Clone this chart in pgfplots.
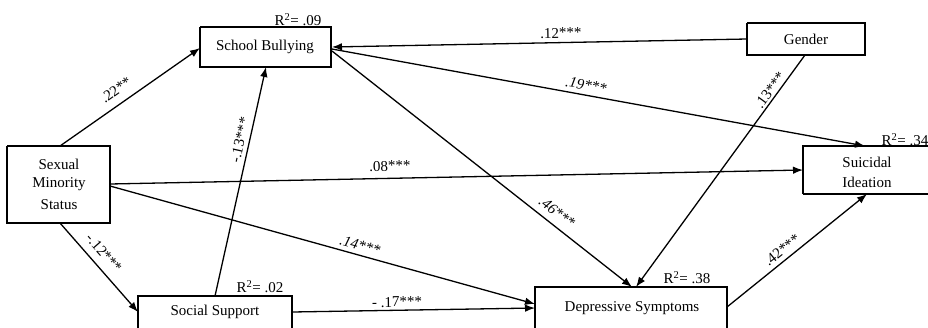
\documentclass[border=0pt]{standalone}
\usepackage{pgfplots}
\pgfplotsset{compat=1.18}
\usepackage{fontspec}
\setmainfont{Liberation Serif}
\usetikzlibrary{arrows.meta}
\begin{document}
\begin{tikzpicture}[every node/.style={font=\fontsize{15}{17}\selectfont, inner sep=0pt}]
\begin{axis}[
  scale only axis, width=928pt, height=327pt,
  xmin=0, xmax=928, ymin=0, ymax=327, y dir=reverse,
  hide axis, clip=true,
]
\coordinate (BL) at (rel axis cs:0,0);
\coordinate (TR) at (rel axis cs:1,1);
% arrows
\pgfplotsset{arr/.style={black, line width=1.3pt, -{Latex[length=10pt,width=7.5pt]}, no marks}}
\addplot[arr] coordinates {(60,146) (200,48)};            % SMS -> SB
\addplot[arr] coordinates {(60,223) (138,312)};           % SMS -> SS
\addplot[arr] coordinates {(215,296) (266,67)};           % SS -> SB
\addplot[arr] coordinates {(747,39) (332,47)};            % Gender -> SB
\addplot[arr] coordinates {(332,49) (865,146)};           % SB -> SI
\addplot[arr] coordinates {(332,51) (632,287)};           % SB -> Dep
\addplot[arr] coordinates {(805,55) (636,287)};           % Gender -> Dep
\addplot[arr] coordinates {(110,184) (803,170)};          % SMS -> SI
\addplot[arr] coordinates {(110,186) (535,304)};          % SMS -> Dep
\addplot[arr] coordinates {(292,312) (535,308)};          % SS -> Dep
\addplot[arr] coordinates {(727,307) (867,194)};          % Dep -> SI
% boxes
\pgfplotsset{bx/.style={black, line width=1.3pt, no marks}}
\addplot[bx] coordinates {(200,27) (331,27) (331,67) (200,67) (200,27)};   % School Bullying
\addplot[bx] coordinates {(747,23) (865,23) (865,55) (747,55) (747,23)};   % Gender
\addplot[bx] coordinates {(803,194) (803,146) (940,146) (940,194) (803,194)}; % Suicidal
\addplot[bx] coordinates {(7,146) (110,146) (110,223) (7,223) (7,146)};    % SMS
\addplot[bx] coordinates {(138,340) (138,296) (292,296) (292,340)};        % Social support
\addplot[bx] coordinates {(535,340) (535,287) (727,287) (727,340)};        % Depressive
% box texts
\node at (axis cs:265,47) {School Bullying};
\node at (axis cs:806,39) {Gender};
\node at (axis cs:867,162) {Suicidal};
\node at (axis cs:867,182) {Ideation};
\node at (axis cs:59,164) {Sexual};
\node at (axis cs:59,184) {Minority};
\node at (axis cs:59,205) {Status};
\node at (axis cs:215,312) {Social Support};
\node at (axis cs:632,308) {Depressive Symptoms};
% R squared
\node at (axis cs:298,20) {R\textsuperscript{2}= .09};
\node at (axis cs:905,140) {R\textsuperscript{2}= .34};
\node at (axis cs:260,287) {R\textsuperscript{2}= .02};
\node at (axis cs:687,278) {R\textsuperscript{2}= .38};
% coefficients
\node[rotate=35.3] at (axis cs:116,90) {.22**};
\node[rotate=77.4] at (axis cs:240,140) {-.13***};
\node[rotate=1.1] at (axis cs:561,33) {.12***};
\node[rotate=-10.4] at (axis cs:586,85) {\itshape .19***};
\node[rotate=-38.3] at (axis cs:557,212) {\itshape .46***};
\node[rotate=53.9] at (axis cs:770,90) {.13***};
\node[rotate=1.2] at (axis cs:390,166) {.08***};
\node[rotate=-15.5] at (axis cs:360,245) {\itshape .14***};
\node[rotate=0.9] at (axis cs:397,302) {- .17***};
\node[rotate=38.7] at (axis cs:782,250) {.42***};
\node[rotate=-49] at (axis cs:104,253) {-.12***};
\end{axis}
\pgfresetboundingbox
\path (BL) rectangle (TR);
\end{tikzpicture}
\end{document}
